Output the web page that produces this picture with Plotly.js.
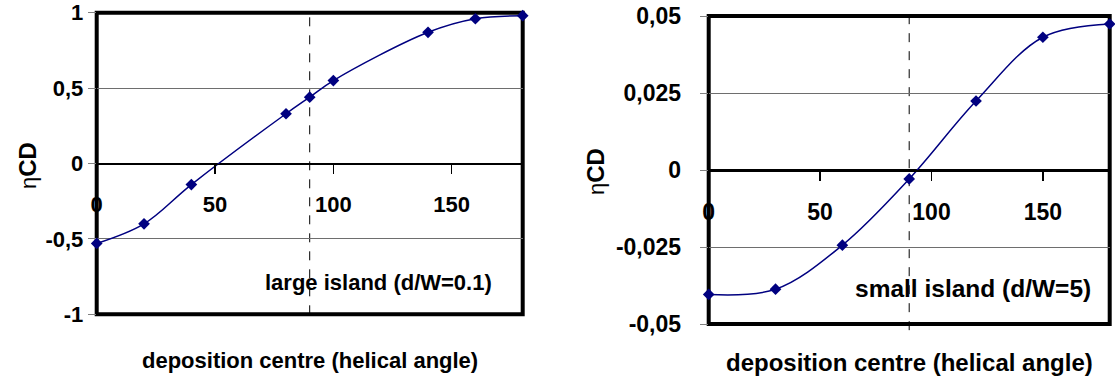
<!DOCTYPE html>
<html>
<head>
<meta charset="utf-8">
<script src="https://cdn.plot.ly/plotly-3.0.1.min.js"></script>
<style>html,body{margin:0;padding:0;background:#fff;}#chart{width:1115px;height:381px;}</style>
</head>
<body>
<div id="chart"></div>
<script>
// ---- data ----
const largeAngle = [0, 20, 40, 80, 90, 100, 140, 160, 180];
const largeEta   = [-0.53, -0.40, -0.14, 0.33, 0.44, 0.55, 0.87, 0.96, 0.98];
const smallAngle = [0, 30, 60, 90, 120, 150, 180];
const smallEta   = [-0.0404, -0.0387, -0.0244, -0.0029, 0.0224, 0.0431, 0.0474];

const xTickVals   = [0, 50, 100, 150];
const xTickText   = ['0', '50', '100', '150'];
const largeYVals  = [-1, -0.5, 0, 0.5, 1];
const largeYText  = ['-1', '-0,5', '0', '0,5', '1'];
const smallYVals  = [-0.05, -0.025, 0, 0.025, 0.05];
const smallYText  = ['-0,05', '-0,025', '0', '0,025', '0,05'];

const largeLabel = 'large island (d/W=0.1)';
const smallLabel = 'small island (d/W=5)';
const xTitle = 'deposition centre (helical angle)';
const yTitle = '<span style="font-weight:normal;font-size:22px">η</span>CD';

// ---- style ----
const FONT = '"Liberation Sans", Arial, sans-serif';
const NAVY = '#000080';
const W = 1115, H = 381;

const dom = {
  x1: [96.7 / W, 522.7 / W], y1: [1 - 314.3 / H, 1 - 12.7 / H],
  x2: [708.7 / W, 1109.7 / W], y2: [1 - 324 / H, 1 - 16 / H]
};

function trace(x, y, xa, ya) {
  return {
    x: x, y: y, xaxis: xa, yaxis: ya, type: 'scatter', mode: 'lines+markers',
    line: {color: NAVY, width: 1.5, shape: 'spline', smoothing: 1},
    marker: {symbol: 'diamond', size: 9, color: NAVY},
    cliponaxis: false, showlegend: false, hoverinfo: 'skip'
  };
}

function xAxis(domain, ydom, size, standoff) {
  return {
    domain: domain, anchor: 'free', position: (ydom[0] + ydom[1]) / 2,
    range: [0, 180], tickmode: 'array', tickvals: xTickVals, ticktext: xTickText,
    showgrid: false, zeroline: false, showline: true, linecolor: '#000', linewidth: 1.5,
    ticks: 'outside', ticklen: 9, tickwidth: 1.5, tickcolor: '#000',
    ticklabelstandoff: standoff,
    tickfont: {family: FONT, size: size, color: '#000', weight: 'bold'},
    fixedrange: true
  };
}
function yAxis(domain, xaxName, range, vals, text, size, standoff) {
  return {
    domain: domain, anchor: xaxName, range: range,
    tickmode: 'array', tickvals: vals, ticktext: text,
    showgrid: true, gridcolor: '#6e6e6e', gridwidth: 1,
    zeroline: true, zerolinecolor: '#000', zerolinewidth: 1.5,
    showline: false, ticks: 'outside', ticklen: 8, tickwidth: 1, tickcolor: '#808080',
    ticklabelstandoff: standoff,
    tickfont: {family: FONT, size: size, color: '#000', weight: 'bold'},
    fixedrange: true
  };
}

const data = [
  trace(largeAngle, largeEta, 'x', 'y'),
  trace(smallAngle, smallEta, 'x2', 'y2')
];

const layout = {
  width: W, height: H, margin: {l: 0, r: 0, t: 0, b: 0},
  paper_bgcolor: '#fff', plot_bgcolor: '#fff',
  font: {family: FONT, color: '#000'},
  xaxis: xAxis(dom.x1, dom.y1, 22, 12),
  yaxis: yAxis(dom.y1, 'x', [-1, 1], largeYVals, largeYText, 22, 0),
  xaxis2: xAxis(dom.x2, dom.y2, 23, 12),
  yaxis2: yAxis(dom.y2, 'x2', [-0.05, 0.05], smallYVals, smallYText, 23, 14),
  shapes: [
    {type: 'line', xref: 'x', yref: 'y domain', x0: 90, x1: 90, y0: 0, y1: 1,
     line: {color: '#000', width: 1, dash: 'dash'}, layer: 'below'},
    {type: 'line', xref: 'x2', yref: 'y2 domain', x0: 90, x1: 90, y0: -0.02, y1: 1,
     line: {color: '#000', width: 1, dash: 'dash'}, layer: 'below'},
    {type: 'rect', xref: 'x domain', yref: 'y domain', x0: 0, x1: 1, y0: 0, y1: 1,
     line: {color: '#000', width: 4}, layer: 'below'},
    {type: 'rect', xref: 'x2 domain', yref: 'y2 domain', x0: 0, x1: 1, y0: 0, y1: 1,
     line: {color: '#000', width: 4}, layer: 'below'}
  ],
  annotations: [
    {text: largeLabel, xref: 'paper', yref: 'paper', x: 494 / W, y: 1 - 282 / H,
     xanchor: 'right', yanchor: 'middle', showarrow: false,
     font: {family: FONT, size: 22, color: '#000', weight: 'bold'}},
    {text: smallLabel, xref: 'paper', yref: 'paper', x: 1093 / W, y: 1 - 288 / H,
     xanchor: 'right', yanchor: 'middle', showarrow: false,
     font: {family: FONT, size: 24.5, color: '#000', weight: 'bold'}},
    {text: xTitle, xref: 'paper', yref: 'paper', x: (dom.x1[0] + dom.x1[1]) / 2, y: 1 - 360 / H,
     xanchor: 'center', yanchor: 'middle', showarrow: false,
     font: {family: FONT, size: 22, color: '#000', weight: 'bold'}},
    {text: xTitle, xref: 'paper', yref: 'paper', x: (dom.x2[0] + dom.x2[1]) / 2, y: 1 - 362 / H,
     xanchor: 'center', yanchor: 'middle', showarrow: false,
     font: {family: FONT, size: 24, color: '#000', weight: 'bold'}},
    {text: yTitle, xref: 'paper', yref: 'paper', x: 27 / W, y: 1 - 166 / H, textangle: -90,
     xanchor: 'center', yanchor: 'middle', showarrow: false,
     font: {family: FONT, size: 24, color: '#000', weight: 'bold'}},
    {text: yTitle, xref: 'paper', yref: 'paper', x: 596 / W, y: 1 - 172 / H, textangle: -90,
     xanchor: 'center', yanchor: 'middle', showarrow: false,
     font: {family: FONT, size: 24, color: '#000', weight: 'bold'}}
  ]
};

Plotly.newPlot('chart', data, layout, {staticPlot: true, displayModeBar: false});
</script>
</body>
</html>
